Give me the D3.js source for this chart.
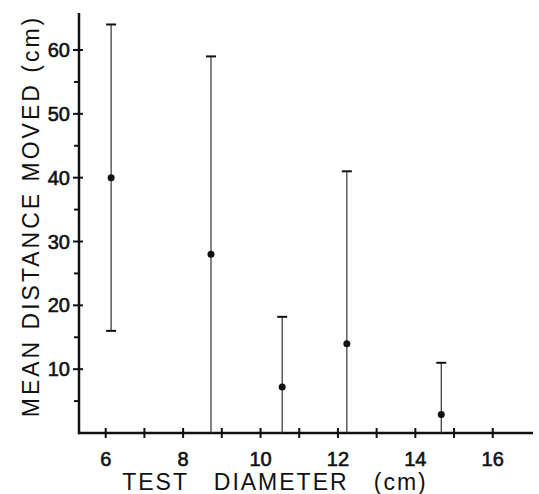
<!DOCTYPE html>
<html>
<head>
<meta charset="utf-8">
<script src="https://cdn.jsdelivr.net/npm/d3@7"></script>
<style>
  body { margin: 0; background: #fff; }
  text { font-family: "Liberation Sans", Arial, sans-serif; fill: #111; }
</style>
</head>
<body>
<div id="chart"></div>
<script>
// values
var diameters = [6.14, 8.72, 10.56, 12.23, 14.67];
var means = [40, 28, 7.2, 14, 2.9];
var upper = [64, 59, 18.2, 41, 11];
var lower = [16, 0, 0, 0, 0];
var xTicks = [6, 7, 8, 9, 10, 11, 12, 13, 14, 15, 16];
var xLabels = [6, 8, 10, 12, 14, 16];
var yMajor = [10, 20, 30, 40, 50, 60];
var yMinor = [5, 15, 25, 35, 45, 55];

var width = 539, height = 494;

var svg = d3.select("#chart").append("svg")
  .attr("width", width)
  .attr("height", height);

var x = d3.scaleLinear().domain([5.31, 17.04]).range([79, 533]);
var y = d3.scaleLinear().domain([0, 65.8]).range([433, 13]);

// axes lines
svg.append("line")
  .attr("x1", x(5.31)).attr("x2", x(17.04))
  .attr("y1", y(0)).attr("y2", y(0))
  .attr("stroke", "#111").attr("stroke-width", 2.5);
svg.append("line")
  .attr("x1", x(5.31)).attr("x2", x(5.31))
  .attr("y1", y(0) + 1.2).attr("y2", y(65.8))
  .attr("stroke", "#111").attr("stroke-width", 2.5);

// x ticks cross the axis
svg.append("g").selectAll("line")
  .data(xTicks)
  .enter().append("line")
  .attr("x1", function(d) { return x(d); })
  .attr("x2", function(d) { return x(d); })
  .attr("y1", y(0) - 5).attr("y2", y(0) + 5)
  .attr("stroke", "#111").attr("stroke-width", 2);

svg.append("g").selectAll("text")
  .data(xLabels)
  .enter().append("text")
  .attr("x", function(d) { return x(d); })
  .attr("y", y(0) + 33)
  .attr("text-anchor", "middle")
  .style("font-size", "20px")
  .style("stroke", "#111").style("stroke-width", 0.6)
  .text(function(d) { return d; });

// y ticks
svg.append("g").selectAll("line")
  .data(yMajor)
  .enter().append("line")
  .attr("x1", x(5.31) - 6).attr("x2", x(5.31) + 4)
  .attr("y1", function(d) { return y(d); })
  .attr("y2", function(d) { return y(d); })
  .attr("stroke", "#111").attr("stroke-width", 2);

svg.append("g").selectAll("line")
  .data(yMinor)
  .enter().append("line")
  .attr("x1", x(5.31) - 5).attr("x2", x(5.31))
  .attr("y1", function(d) { return y(d); })
  .attr("y2", function(d) { return y(d); })
  .attr("stroke", "#111").attr("stroke-width", 2);

svg.append("g").selectAll("text")
  .data(yMajor)
  .enter().append("text")
  .attr("x", x(5.31) - 9)
  .attr("y", function(d) { return y(d) + 7; })
  .attr("text-anchor", "end")
  .style("font-size", "20px")
  .style("stroke", "#111").style("stroke-width", 0.6)
  .text(function(d) { return d; });

// error bars
var bars = svg.append("g");
bars.selectAll("line.bar")
  .data(diameters)
  .enter().append("line")
  .attr("class", "bar")
  .attr("x1", function(d) { return x(d); })
  .attr("x2", function(d) { return x(d); })
  .attr("y1", function(d, i) { return y(upper[i]); })
  .attr("y2", function(d, i) { return y(lower[i]); })
  .attr("stroke", "#333").attr("stroke-width", 1.2);

bars.selectAll("line.cap-hi")
  .data(diameters)
  .enter().append("line")
  .attr("class", "cap-hi")
  .attr("x1", function(d) { return x(d) - 5; })
  .attr("x2", function(d) { return x(d) + 5; })
  .attr("y1", function(d, i) { return y(upper[i]); })
  .attr("y2", function(d, i) { return y(upper[i]); })
  .attr("stroke", "#111").attr("stroke-width", 2);

bars.selectAll("line.cap-lo")
  .data(diameters.filter(function(d, i) { return lower[i] > 0; }))
  .enter().append("line")
  .attr("class", "cap-lo")
  .attr("x1", function(d) { return x(d) - 5; })
  .attr("x2", function(d) { return x(d) + 5; })
  .attr("y1", function(d) { return y(lower[diameters.indexOf(d)]); })
  .attr("y2", function(d) { return y(lower[diameters.indexOf(d)]); })
  .attr("stroke", "#111").attr("stroke-width", 2);

bars.selectAll("circle")
  .data(diameters)
  .enter().append("circle")
  .attr("cx", function(d) { return x(d); })
  .attr("cy", function(d, i) { return y(means[i]); })
  .attr("r", 3.5)
  .attr("fill", "#111");

// axis titles
svg.append("text")
  .attr("transform", "translate(39," + 216 + ") rotate(-90)")
  .attr("text-anchor", "middle")
  .style("font-size", "23px")
  .style("letter-spacing", "3px")
  .style("white-space", "pre")
  .text("MEAN DISTANCE MOVED (cm)");

svg.append("text")
  .attr("x", 275)
  .attr("y", 490)
  .attr("text-anchor", "middle")
  .style("font-size", "23px")
  .style("letter-spacing", "2px")
  .style("white-space", "pre")
  .text("TEST   DIAMETER   (cm)");
</script>
</body>
</html>
